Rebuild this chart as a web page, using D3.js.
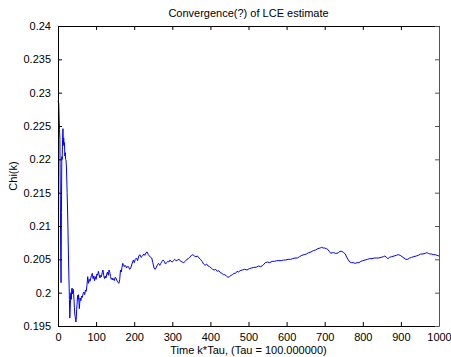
<!DOCTYPE html>
<html>
<head>
<meta charset="utf-8">
<script src="https://cdn.jsdelivr.net/npm/d3@7"></script>
<style>
  html, body { margin: 0; padding: 0; background: #fff; }
  svg text { font-family: "Liberation Sans", Arial, sans-serif; font-size: 11px; fill: #000; }
</style>
</head>
<body>
<svg id="chart" width="451" height="357"></svg>
<script>
// Step index k (time = k*Tau)
const steps = [
  0,1,2,3,4,5,6,7,8,9,10,11,12,13,14,15,16,17,18,19,20,21,22,24,26,28,30,31,32,33,34,35,36,37,38,39,40,
  41,42,43,44,45,46,47,48,49,50,51,52,53,54,55,56,57,58,60,62,64,66,68,70,72,74,76,78,80,82,84,86,88,90,
  92,94,96,98,100,102,104,106,108,110,112,114,116,118,120,122,124,126,128,130,132,134,136,138,140,142,144,
  146,148,150,152,154,156,158,160,162,164,166,168,170,172,174,176,178,180,182,185,188,191,194,196,198,200,
  203,206,209,212,215,218,222,225,228,231,234,237,240,243,246,249,252,255,258,261,264,267,270,273,276,279,
  282,285,288,291,294,297,300,303,306,310,314,318,322,326,330,334,338,342,346,350,354,358,362,366,370,374,
  378,382,386,390,394,398,402,406,410,414,418,422,426,430,434,438,442,446,450,454,458,462,466,470,474,478,
  484,490,496,502,508,514,520,526,532,538,544,550,556,562,568,574,580,586,592,598,604,610,616,622,628,634,
  640,646,652,658,664,670,676,682,688,692,696,700,704,708,712,716,720,724,728,732,736,740,745,750,754,758,
  762,766,770,775,780,785,790,795,800,806,812,818,824,830,836,842,848,854,858,862,866,870,876,882,888,893,
  898,903,908,913,918,923,928,934,940,946,952,958,964,968,972,976,980,985,990,995,1000
];

// LCE estimate Chi(k)
const chi = [
  0.2286,0.2288,0.2284,0.2262,0.2245,0.2230,0.2150,0.2060,0.2015,0.2120,0.2204,0.2200,0.2230,0.2246,0.2222,
  0.2232,0.2220,0.2225,0.2205,0.2210,0.2200,0.2199,0.2190,0.2150,0.2100,0.2040,0.1990,0.1962,0.1975,0.1995,
  0.2000,0.1990,0.2004,0.2007,0.1998,0.2003,0.2005,
  0.1999,0.1990,0.1978,0.1968,0.1964,0.1960,0.1956,0.1962,0.1975,0.1982,0.1992,0.1996,0.1990,0.1997,0.1985,
  0.1976,0.1984,0.1992,0.1988,0.1995,0.1993,0.1999,0.2001,0.1997,0.2004,0.2002,0.2011,0.2024,0.2014,0.2020,
  0.2017,0.2022,0.2026,0.2029,
  0.2021,0.2025,0.2018,0.2024,0.2020,0.2028,0.2026,0.2032,0.2027,0.2022,0.2026,0.2024,0.2030,0.2034,0.2026,
  0.2021,0.2025,0.2022,0.2028,0.2031,0.2026,0.2034,0.2030,0.2024,0.2020,0.2022,0.2019,
  0.2021,0.2018,0.2023,0.2022,0.2019,0.2017,0.2015,0.2014,0.2020,0.2034,0.2031,0.2038,0.2044,0.2042,0.2039,
  0.2041,0.2040,0.2037,0.2039,0.2039,0.2035,0.2037,0.2043,0.2046,0.2049,0.2045,
  0.2050,0.2052,0.2048,0.2055,0.2057,0.2053,0.2055,0.2058,0.2056,0.2060,0.2061,0.2057,0.2055,0.2053,0.2052,
  0.2045,0.2037,0.2035,0.2038,0.2042,0.2044,0.2041,0.2044,0.2047,0.2049,0.2047,
  0.2043,0.2045,0.2047,0.2046,0.2049,0.2047,0.2046,0.2048,0.2050,0.2048,0.2049,0.2050,0.2047,0.2046,0.2045,
  0.2047,0.2050,0.2051,0.2053,0.2056,0.2057,0.2055,0.2054,0.2055,0.2052,0.2050,
  0.2047,0.2043,0.2041,0.2043,0.2040,0.2039,0.2037,0.2035,0.2034,0.2035,0.2032,0.2033,0.2030,0.2029,0.2027,
  0.2027,0.2025,0.2023,0.2024,0.2026,0.2027,0.2029,0.2029,0.2032,0.2031,0.2033,
  0.2034,0.2035,0.2034,0.2036,0.2037,0.2038,0.2038,0.2040,0.2039,0.2041,0.2045,0.2046,0.2045,0.2047,0.2047,
  0.2048,0.2048,0.2048,0.2049,0.2049,0.2050,0.2050,0.2051,0.2052,0.2052,0.2054,
  0.2056,0.2057,0.2058,0.2060,0.2061,0.2063,0.2064,0.2066,0.2067,0.2068,0.2067,0.2067,0.2066,0.2065,0.2062,
  0.2059,0.2060,0.2060,0.2059,0.2059,0.2060,0.2062,0.2062,0.2060,0.2058,0.2053,
  0.2049,0.2046,0.2045,0.2045,0.2044,0.2045,0.2045,0.2047,0.2048,0.2049,0.2050,0.2051,0.2051,0.2052,0.2052,
  0.2052,0.2053,0.2054,0.2055,0.2053,0.2051,0.2053,0.2054,0.2055,0.2056,0.2057,
  0.2056,0.2054,0.2052,0.2050,0.2050,0.2052,0.2053,0.2054,0.2055,0.2056,0.2058,0.2058,0.2059,0.2060,0.2059,
  0.2058,0.2058,0.2057,0.2057,0.2056,0.2055
];

const xTicks = [0,100,200,300,400,500,600,700,800,900,1000];
const xTickLabels = ["0","100","200","300","400","500","600","700","800","900","1000"];
const yTicks = [0.195,0.2,0.205,0.21,0.215,0.22,0.225,0.23,0.235,0.24];
const yTickLabels = ["0.195","0.2","0.205","0.21","0.215","0.22","0.225","0.23","0.235","0.24"];

const titleText = "Convergence(?) of LCE estimate";
const xLabelText = "Time k*Tau, (Tau = 100.000000)";
const yLabelText = "Chi(k)";

const svg = d3.select("#chart");
const plot = { left: 58, right: 439, top: 26, bottom: 326 };
const tickLen = 4;

const x = d3.scaleLinear().domain([0, 1000]).range([plot.left, plot.right]);
const y = d3.scaleLinear().domain([0.195, 0.24]).range([plot.bottom, plot.top]);

// plot area
svg.append("rect")
  .attr("x", plot.left).attr("y", plot.top)
  .attr("width", plot.right - plot.left).attr("height", plot.bottom - plot.top)
  .attr("fill", "#fff");

// data line
const line = d3.line()
  .x((d, i) => x(steps[i]))
  .y(d => y(d));

svg.append("path")
  .datum(chi)
  .attr("fill", "none")
  .attr("stroke", "#0000ff")
  .attr("stroke-width", 1)
  .attr("d", line);

// axes, ticks pointing inward
const fmtX = (d, i) => xTickLabels[i];
const fmtY = (d, i) => yTickLabels[i];

const xBottom = d3.axisBottom(x).tickValues(xTicks).tickSizeInner(-tickLen).tickSizeOuter(0).tickPadding(7).tickFormat(fmtX);
const xTop = d3.axisTop(x).tickValues(xTicks).tickSizeInner(-tickLen).tickSizeOuter(0).tickFormat("");
const yLeft = d3.axisLeft(y).tickValues(yTicks).tickSizeInner(-tickLen).tickSizeOuter(0).tickPadding(7).tickFormat(fmtY);
const yRight = d3.axisRight(y).tickValues(yTicks).tickSizeInner(-tickLen).tickSizeOuter(0).tickFormat("");

function styleAxis(g, color) {
  g.selectAll(".domain").attr("stroke", color).attr("stroke-width", 1);
  g.selectAll(".tick line").attr("stroke", color);
  g.selectAll(".tick text").attr("font-family", "Liberation Sans, Arial, sans-serif").attr("font-size", 11).attr("fill", "#000");
}

svg.append("g").attr("transform", `translate(0,${plot.bottom})`).call(xBottom).call(g => styleAxis(g, "#000"));
svg.append("g").attr("transform", `translate(0,${plot.top})`).call(xTop).call(g => styleAxis(g, "#000"));
svg.append("g").attr("transform", `translate(${plot.left},0)`).call(yLeft).call(g => styleAxis(g, "#000"));
svg.append("g").attr("transform", `translate(${plot.right},0)`).call(yRight).call(g => styleAxis(g, "#555"));

// title and labels
svg.append("text")
  .attr("x", (plot.left + plot.right) / 2).attr("y", 17)
  .attr("text-anchor", "middle")
  .text(titleText);

svg.append("text")
  .attr("x", (plot.left + plot.right) / 2).attr("y", 354)
  .attr("text-anchor", "middle")
  .text(xLabelText);

svg.append("text")
  .attr("transform", `translate(17,${(plot.top + plot.bottom) / 2}) rotate(-90)`)
  .attr("text-anchor", "middle")
  .text(yLabelText);
</script>
</body>
</html>
